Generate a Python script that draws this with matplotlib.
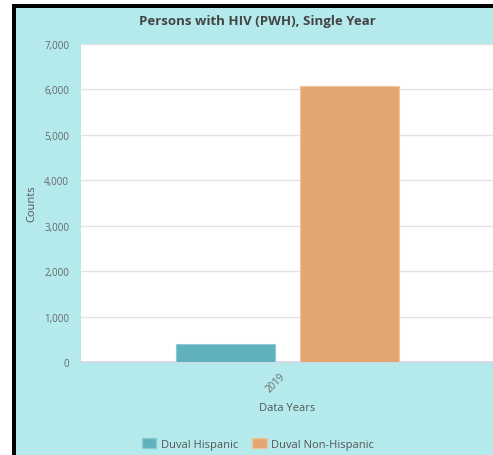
import matplotlib
matplotlib.use("Agg")
import matplotlib.pyplot as plt
from matplotlib.patches import Rectangle, Patch
from matplotlib.ticker import FuncFormatter

plt.rcParams['font.family'] = ['Open Sans', 'DejaVu Sans']

years = ['2019']
series = ['Duval Hispanic', 'Duval Non-Hispanic']
counts = [395, 6070]
colors = ['#5fb1bd', '#e1a672']
edges = ['#8cc9d2', '#f0c49c']

W, H = 493, 456
bg = '#b4eaec'

fig = plt.figure(figsize=(W / 100, H / 100), dpi=100)
fig.patch.set_facecolor('white')

# cyan panel with the thick black frame on top and left
fig.patches.append(Rectangle((12 / W, 0), 1, 1 - 5 / H, transform=fig.transFigure,
                             facecolor='black', edgecolor='none', zorder=-10))
fig.patches.append(Rectangle((16 / W, 0), 1, 1 - 9 / H, transform=fig.transFigure,
                             facecolor=bg, edgecolor='none', zorder=-9))

ax = fig.add_axes([81 / W, (H - 363) / H, 413 / W, 318 / H])
ax.set_facecolor('white')

width = 0.24
offsets = [-0.15, 0.15]
for i, name in enumerate(series):
    ax.bar(0 + offsets[i], counts[i], width=width, color=colors[i],
           edgecolor=edges[i], linewidth=0.8, zorder=3, label=name)

ax.set_xlim(-0.5, 0.5)
ax.set_ylim(0, 7000)
ax.set_yticks(range(0, 7001, 1000))
ax.yaxis.set_major_formatter(FuncFormatter(lambda v, p: f'{int(v):,}'))
ax.set_xticks([0])
ax.set_xticklabels(years, rotation=45, ha='right', va='top')

ax.grid(axis='y', color='#e3e3e3', linewidth=1, zorder=0)
for s in ['top', 'right', 'left']:
    ax.spines[s].set_visible(False)
ax.spines['bottom'].set_color('#d6d6e6')
ax.spines['bottom'].set_linewidth(1.2)
ax.tick_params(axis='both', length=0, labelsize=7, labelcolor='#666666')
ax.tick_params(axis='y', pad=8.5)
ax.tick_params(axis='x', pad=6)

ax.set_ylabel('Counts', fontsize=8, color='#555555')
ax.yaxis.set_label_coords(-0.119, 0.5)
ax.set_xlabel('Data Years', fontsize=8, color='#555555')
ax.xaxis.set_label_coords(0.5, -0.143)
ax.xaxis.label.set_va('center')
ax.yaxis.label.set_va('center')

fig.text(257 / W, 1 - 22 / H, 'Persons with HIV (PWH), Single Year',
         ha='center', va='center', fontsize=9.5, fontweight='bold', color='#444444')

handles = [Patch(facecolor=colors[i], edgecolor=edges[i], label=series[i]) for i in range(2)]
fig.legend(handles=handles, loc='center', bbox_to_anchor=(258 / W, 1 - 445 / H), ncol=2,
           frameon=False, fontsize=8, handlelength=1.3, handleheight=0.9,
           handletextpad=0.4, columnspacing=1.3, labelcolor='#555555')

fig.savefig('out.png', dpi=100, facecolor=fig.get_facecolor())
